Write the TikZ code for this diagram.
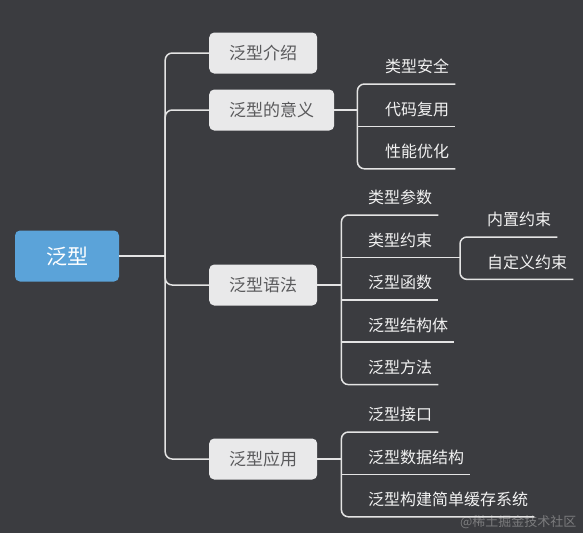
\documentclass[tikz,border=0pt]{standalone}
\usepackage{fontspec}
\setmainfont{Noto Sans CJK SC}
\usetikzlibrary{positioning}
\definecolor{MapBack}{HTML}{3B3C40}
\definecolor{MapBlue}{HTML}{5BA3D9}
\definecolor{MapGrey}{HTML}{E9E9EA}
\definecolor{MapInk}{HTML}{5A5A5C}
\definecolor{MapLine}{HTML}{E4E4E4}
\definecolor{MapText}{HTML}{F2F2F2}
\tikzset{root/.style={fill=MapBlue,rounded corners=5pt,text=white,
font=\fontsize{21}{21}\selectfont,minimum width=104pt,minimum height=51pt},
topic/.style={fill=MapGrey,rounded corners=5pt,text=MapInk,anchor=west,
font=\fontsize{17}{17}\selectfont,minimum height=41pt,inner xsep=20pt},
leaf/.style={text=MapText,font=\fontsize{16}{16}\selectfont,inner xsep=6pt,
inner ysep=8pt,text height=12pt,text depth=3pt},
leaffirst/.style={leaf,anchor=south west},
leafbelow/.style={leaf,below=of #1.south west,anchor=north west},
link/.style={draw=MapLine,line width=1.5pt,rounded corners=7pt},
watermark/.style={text=gray!70,opacity=.6,font=\fontsize{13}{13}\selectfont}}
\begin{document}
\begin{tikzpicture}[x=1pt,y=-1pt,node distance=11pt]
\fill[MapBack](0,0) rectangle (583,533);
\useasboundingbox (0,0) rectangle (583,533);
\node[root](generic) at (67,256){泛型};
\node[topic](intro) at (209,53){泛型介绍};
\node[topic](sense) at (209,110){泛型的意义};
\node[topic](syntax) at (209,285){泛型语法};
\node[topic](usage) at (209,459){泛型应用};
% meaning
\node[leaffirst](safe) at (379,84){类型安全};
\node[leafbelow=safe](reuse){代码复用};
\node[leafbelow=reuse](perf){性能优化};
% syntax
\node[leaffirst](param) at (362,215){类型参数};
\node[leafbelow=param](bound){类型约束};
\node[leafbelow=bound](func){泛型函数};
\node[leafbelow=func](struct){泛型结构体};
\node[leafbelow=struct](method){泛型方法};
\node[leaffirst](builtin) at (481,237){内置约束};
\node[leafbelow=builtin](custom){自定义约束};
% usage
\node[leaffirst](iface) at (362,432){泛型接口};
\node[leafbelow=iface](data){泛型数据结构};
\node[leafbelow=data](cache){泛型构建简单缓存系统};
\node[watermark,anchor=east](wm) at (580,522){@稀土掘金技术社区};
% trunk
\draw[link](generic.east) -- ++(46,0) coordinate (trunk);
\draw[link](intro.west) -| (trunk) |- (usage.west);
\draw[link](sense.west) -| (trunk);\draw[link](trunk) |- (syntax.west);
% brackets
\draw[link](sense.east) -- ++(23,0) coordinate (sensej);
\draw[link](safe.south east) -| (sensej) |- (perf.south east);
\draw[link](sensej |- reuse.south) -- (reuse.south east);
\draw[link](syntax.east) -- ++(24,0) coordinate (syntaxj);
\draw[link](param.south east) -| (syntaxj) |- (method.south east);
\draw[link](syntaxj |- func.south) -- (func.south east);
\draw[link](syntaxj |- struct.south) -- (struct.south east);
\path (builtin.south west) ++(-21,0) coordinate (boundx);
\draw[link](syntaxj |- bound.south) -- (boundx |- bound.south) coordinate (boundj);
\draw[link](builtin.south east) -| (boundj) |- (custom.south east);
\draw[link](usage.east) -- ++(24,0) coordinate (usagej);
\draw[link](iface.south east) -| (usagej) |- (cache.south east);
\draw[link](usagej |- data.south) -- (data.south east);
\end{tikzpicture}
\end{document}
